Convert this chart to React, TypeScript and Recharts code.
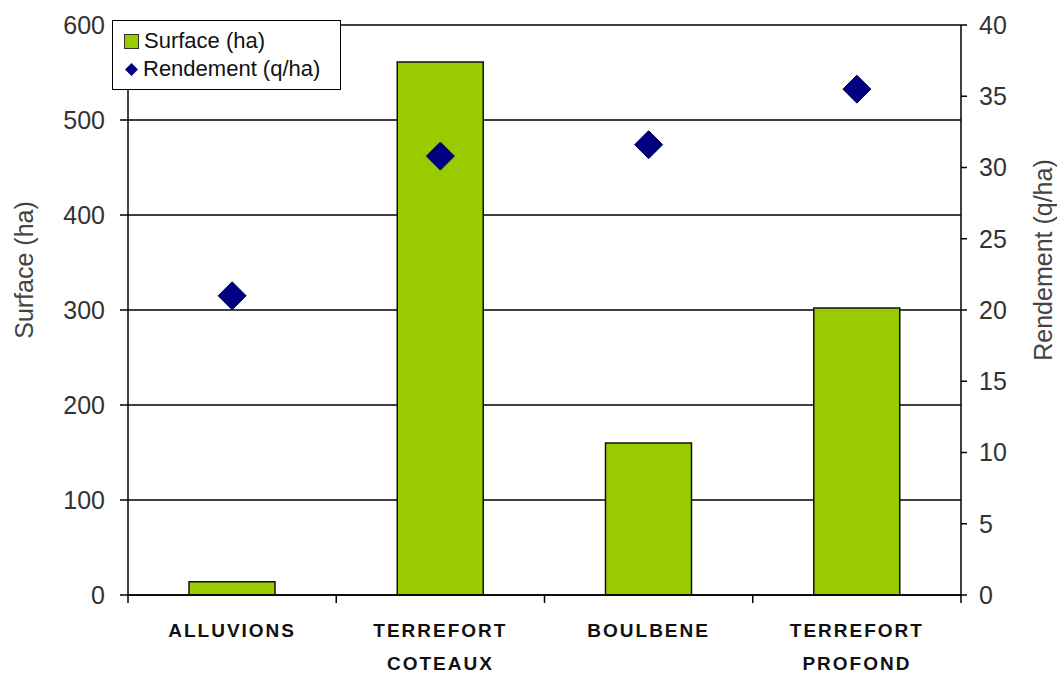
import React from 'react'
import { ComposedChart, Bar, Scatter, XAxis, YAxis, CartesianGrid, Legend, Label } from 'recharts'

const categories = ['ALLUVIONS', 'TERREFORT\nCOTEAUX', 'BOULBENE', 'TERREFORT\nPROFOND']
const surfaceHa = [14, 561, 160, 302]
const rendementQha = [21.0, 30.8, 31.6, 35.5]
const surfaceTicks = [0, 100, 200, 300, 400, 500, 600]
const rendementTicks = [0, 5, 10, 15, 20, 25, 30, 35, 40]

const data = categories.map((name, i) => ({
  name,
  surface: surfaceHa[i],
  rendement: rendementQha[i],
}))

const FONT = '"Liberation Sans", Arial, sans-serif'
const WIDTH = 1057
const HEIGHT = 674
const LEFT_W = 128
const RIGHT_W = 96
const PLOT_W = WIDTH - LEFT_W - RIGHT_W
const BAND = PLOT_W / categories.length
const GREEN = '#99cc00'
const NAVY = '#000080'

const CategoryTick = (props: any) => {
  const { x, y, payload, index } = props
  const lines = String(payload.value).split('\n')
  const left = x - BAND / 2
  const right = x + BAND / 2
  return (
    <g>
      <line x1={left} y1={y} x2={left} y2={y + 8} stroke="#000" strokeWidth={1.5} />
      {index === categories.length - 1 && (
        <line x1={right} y1={y} x2={right} y2={y + 8} stroke="#000" strokeWidth={1.5} />
      )}
      {lines.map((l, i) => (
        <text
          key={i}
          x={x}
          y={y + 42 + i * 33}
          textAnchor="middle"
          fontFamily={FONT}
          fontWeight="bold"
          fontSize={19}
          letterSpacing={2}
          fill="#111"
        >
          {l}
        </text>
      ))}
    </g>
  )
}

const Diamond = (props: any) => {
  const { cx, cy } = props
  const r = 14
  return (
    <polygon
      points={`${cx},${cy - r} ${cx + r},${cy} ${cx},${cy + r} ${cx - r},${cy}`}
      fill={NAVY}
      stroke="#000050"
      strokeWidth={1}
    />
  )
}

const LegendBox = (props: any) => {
  const items = [...(props.payload || [])].sort((a: any, b: any) =>
    a.type === 'square' ? -1 : b.type === 'square' ? 1 : 0
  )
  return (
    <div
      style={{
        border: '1.5px solid #000',
        background: '#fff',
        width: 229,
        height: 70,
        boxSizing: 'border-box',
        padding: '6px 0 0 11px',
        fontFamily: FONT,
        fontSize: 22,
        color: '#111',
      }}
    >
      {items.map((entry: any) => (
        <div key={entry.value} style={{ display: 'flex', alignItems: 'center', height: 28 }}>
          {entry.type === 'square' ? (
            <span
              style={{
                display: 'inline-block',
                width: 13,
                height: 13,
                background: GREEN,
                border: '1px solid #333',
                marginRight: 5,
              }}
            />
          ) : (
            <svg width={15} height={15} style={{ marginRight: 4 }}>
              <polygon points="7.5,1 14,7.5 7.5,14 1,7.5" fill={NAVY} />
            </svg>
          )}
          <span>{entry.value}</span>
        </div>
      ))}
    </div>
  )
}

const AxisTitle = ({ viewBox, value, dx, dy }: any) => {
  const cx = viewBox.x + dx
  const cy = viewBox.y + viewBox.height / 2 + dy
  return (
    <text
      x={cx}
      y={cy}
      transform={`rotate(-90 ${cx} ${cy})`}
      textAnchor="middle"
      dominantBaseline="central"
      fontFamily={FONT}
      fontSize={25}
      fill="#444"
    >
      {value}
    </text>
  )
}

export default function App() {
  return (
    <div style={{ position: 'absolute', left: 0, top: 0, width: WIDTH, height: HEIGHT, background: '#fff' }}>
      <ComposedChart
        width={WIDTH}
        height={HEIGHT}
        data={data}
        margin={{ top: 25, right: 0, left: 0, bottom: 0 }}
      >
        <CartesianGrid yAxisId="left" vertical={false} stroke="#000" strokeWidth={1.5} />
        <XAxis
          dataKey="name"
          height={79}
          tickSize={0}
          tickMargin={0}
          tickLine={false}
          axisLine={{ stroke: '#000', strokeWidth: 1.5 }}
          tick={<CategoryTick />}
          interval={0}
        />
        <YAxis
          yAxisId="left"
          width={LEFT_W}
          domain={[0, 600]}
          ticks={surfaceTicks}
          tickSize={8}
          tickMargin={15}
          axisLine={{ stroke: '#000', strokeWidth: 1.5 }}
          tickLine={{ stroke: '#000', strokeWidth: 1.5 }}
          tick={{ fontFamily: FONT, fontSize: 25, fill: '#333' }}
        >
          <Label content={(p: any) => <AxisTitle {...p} value="Surface (ha)" dx={24} dy={-40} />} />
        </YAxis>
        <YAxis
          yAxisId="right"
          orientation="right"
          width={RIGHT_W}
          domain={[0, 40]}
          ticks={rendementTicks}
          tickSize={6}
          tickMargin={12}
          axisLine={{ stroke: '#000', strokeWidth: 1.5 }}
          tickLine={{ stroke: '#000', strokeWidth: 1.5 }}
          tick={{ fontFamily: FONT, fontSize: 25, fill: '#333' }}
        >
          <Label content={(p: any) => <AxisTitle {...p} value="Rendement (q/ha)" dx={82} dy={-50} />} />
        </YAxis>
        <Legend
          content={<LegendBox />}
          wrapperStyle={{ position: 'absolute', left: 112, top: 20, width: 0, height: 0, overflow: 'visible' }}
        />
        <Bar
          yAxisId="left"
          dataKey="surface"
          name="Surface (ha)"
          fill={GREEN}
          stroke="#111"
          strokeWidth={1.5}
          barSize={86}
          legendType="square"
          isAnimationActive={false}
        />
        <Scatter
          yAxisId="right"
          dataKey="rendement"
          name="Rendement (q/ha)"
          shape={<Diamond />}
          legendType="diamond"
          isAnimationActive={false}
        />
      </ComposedChart>
    </div>
  )
}
